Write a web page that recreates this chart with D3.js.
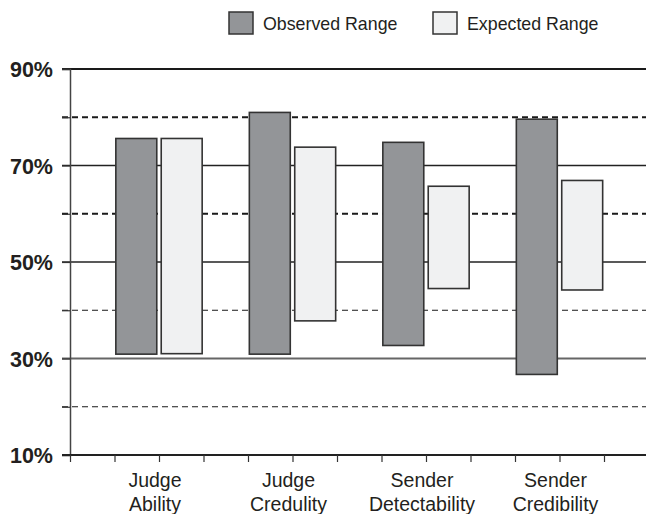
<!DOCTYPE html>
<html>
<head>
<meta charset="utf-8">
<script src="https://cdn.jsdelivr.net/npm/d3@7"></script>
<style>
  html, body { margin: 0; padding: 0; background: #fff; }
  svg { display: block; font-family: Arial, "Liberation Sans", sans-serif; }
</style>
</head>
<body>
<div id="chart"></div>
<script>
// data
const categories = [['Judge', 'Ability'], ['Judge', 'Credulity'], ['Sender', 'Detectability'], ['Sender', 'Credibility']];
const observedLow = [30.9, 30.9, 32.7, 26.7];
const observedHigh = [75.6, 81.0, 74.8, 79.6];
const expectedLow = [31.0, 37.8, 44.5, 44.2];
const expectedHigh = [75.6, 73.8, 65.7, 66.9];
const yTicks = [10, 20, 30, 40, 50, 60, 70, 80, 90];
const yLabels = [10, 30, 50, 70, 90];
const seriesNames = ['Observed Range', 'Expected Range'];

const width = 646, height = 514;

const svg = d3.select('#chart')
    .append('svg')
    .attr('width', width)
    .attr('height', height);

// scales
const y = d3.scaleLinear().domain([10, 90]).range([455, 69]);
const x = d3.scaleLinear().domain([0, 13]).range([70, 648.5]);
const center = i => i * 3 + 2;

// grid lines
const gridStyle = v => {
    if (v === 90) return { w: 2, c: '#1a1a1a', dash: null };
    if (v === 80 || v === 60) return { w: 2.2, c: '#1a1a1a', dash: '6,4' };
    if (v === 40 || v === 20) return { w: 1.1, c: '#1a1a1a', dash: '6,4' };
    if (v === 30) return { w: 2, c: '#666', dash: null };
    return { w: 1.6, c: '#222', dash: null };
};

svg.append('g')
    .selectAll('line')
    .data(yTicks.filter(v => v !== 10))
    .join('line')
    .attr('x1', 62)
    .attr('x2', width)
    .attr('y1', d => y(d))
    .attr('y2', d => y(d))
    .attr('stroke', d => gridStyle(d).c)
    .attr('stroke-width', d => gridStyle(d).w)
    .attr('stroke-dasharray', d => gridStyle(d).dash);

// y axis
const yAxis = svg.append('g')
    .attr('transform', `translate(${x(0)},0)`)
    .call(d3.axisLeft(y).tickValues(yTicks).tickSize(8).tickFormat(''));
yAxis.select('.domain').attr('stroke', '#444').attr('stroke-width', 1.5);
yAxis.selectAll('.tick line').attr('stroke', '#333').attr('stroke-width', 1.2);

svg.append('g')
    .selectAll('text')
    .data(yLabels)
    .join('text')
    .attr('x', 53)
    .attr('y', d => y(d) + 8)
    .attr('text-anchor', 'end')
    .attr('font-size', 21.5)
    .attr('font-weight', 'bold')
    .attr('fill', '#231f20')
    .text(d => d + '%');

// bars
const barW = x(0.92) - x(0);
const bars = svg.append('g');

categories.forEach((c, i) => {
    const cx = center(i);
    bars.append('rect')
        .attr('x', x(cx - 0.97))
        .attr('y', y(observedHigh[i]))
        .attr('width', barW)
        .attr('height', y(observedLow[i]) - y(observedHigh[i]))
        .attr('fill', '#939598')
        .attr('stroke', '#333')
        .attr('stroke-width', 1.6);
    bars.append('rect')
        .attr('x', x(cx + 0.05))
        .attr('y', y(expectedHigh[i]))
        .attr('width', barW)
        .attr('height', y(expectedLow[i]) - y(expectedHigh[i]))
        .attr('fill', '#f0f1f2')
        .attr('stroke', '#333')
        .attr('stroke-width', 1.6);
});

// x axis
const xAxis = svg.append('g')
    .attr('transform', `translate(0,${y(10)})`)
    .call(d3.axisBottom(x).ticks(13).tickSize(7).tickFormat(''));
xAxis.select('.domain').attr('stroke', '#222').attr('stroke-width', 2).attr('d', `M62,0H${width}`);
xAxis.selectAll('.tick line').attr('stroke', '#333').attr('stroke-width', 1.2);

svg.append('g')
    .selectAll('text')
    .data(categories)
    .join('text')
    .attr('x', (d, i) => x(center(i)) - 4)
    .attr('y', 487)
    .attr('text-anchor', 'middle')
    .attr('font-size', 19.5)
    .attr('fill', '#231f20')
    .selectAll('tspan')
    .data(d => d)
    .join('tspan')
    .attr('x', function() { return d3.select(this.parentNode).attr('x'); })
    .attr('dy', (d, i) => i === 0 ? 0 : 23.5)
    .text(d => d);

// legend
const legend = svg.append('g')
    .selectAll('g')
    .data(seriesNames)
    .join('g')
    .attr('transform', (d, i) => `translate(${229 + i * 204},12)`);

legend.append('rect')
    .attr('width', 24)
    .attr('height', 22)
    .attr('fill', (d, i) => i === 0 ? '#939598' : '#f0f1f2')
    .attr('stroke', '#333')
    .attr('stroke-width', 1.5);

legend.append('text')
    .attr('x', 34)
    .attr('y', 17.5)
    .attr('font-size', 17.8)
    .attr('fill', '#231f20')
    .text(d => d);
</script>
</body>
</html>
